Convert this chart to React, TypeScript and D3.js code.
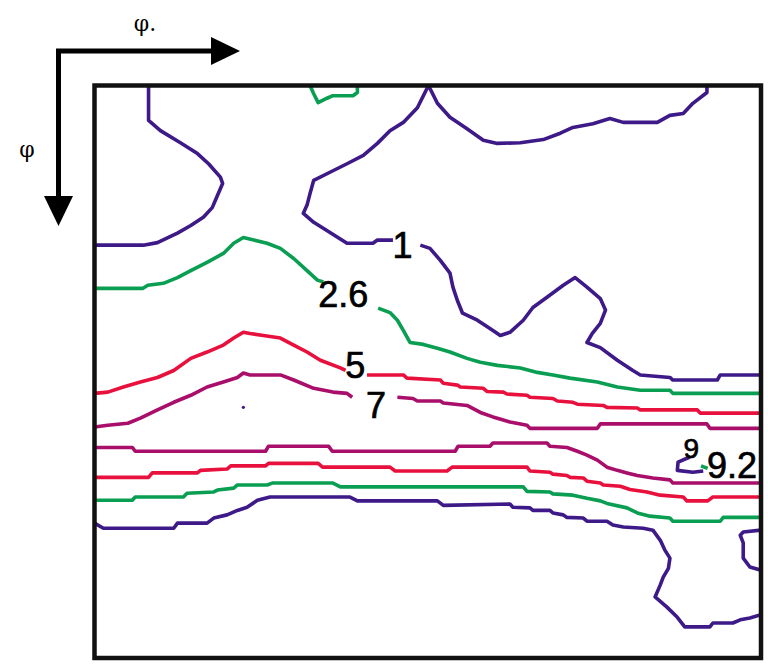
import React from "react";
import * as d3 from "d3";

// Contour levels and their labels
const levels = [1, 2.6, 5, 7, 9, 9.2];
const levelColors = ["#3d1a88", "#0a9e52", "#e8103c", "#a80e6a", "#3d1a88", "#0a9e52"];

// Contour line pieces, in (phi1, Phi) degrees
const contour1: [number, number][][] = [
  [[7.3,0],[7.3,5.5],[8.9,7.1],[11.6,9.0],[13.9,10.7],[15.4,12.3],[17.0,14.4],[17.3,15.4],[16.6,17.3],[15.9,19.2],[14.7,20.7],[13.0,22.0],[11.2,23.2],[8.5,24.7],[6.6,25.1],[0,25.1]],
  [[40.3,24.3],[38.2,24.3],[37.6,24.8],[34.1,24.8],[31.8,23.1],[29.6,21.5],[28.2,20.1],[28.7,18.8],[29.1,17.0],[29.6,14.9],[32.2,13.4],[34.1,12.3],[36.3,11.0],[38.2,9.1],[39.9,7.1],[41.7,5.8],[43.6,3.5],[45.1,0],[46.3,2.8],[48.0,5.0],[50.3,6.8],[52.5,8.6],[54.4,9.1],[57.5,9.0],[60.6,8.5],[62.9,7.5],[64.6,6.6],[67.3,6.0],[69.6,5.2],[71.4,5.8],[76.0,5.8],[77.7,4.7],[79.5,4.4],[80.8,2.8],[82.7,1.1],[82.7,0]],
  [[44.0,25.1],[45.3,25.6],[46.7,27.5],[48.0,29.5],[48.4,31.7],[49.0,33.8],[49.7,35.8],[51.7,36.9],[53.4,38.2],[54.8,39.3],[56.1,38.8],[57.9,36.9],[59.2,34.9],[61.1,33.3],[63.3,31.4],[64.9,30.2],[66.5,31.7],[68.3,33.5],[69.0,35.3],[68.3,37.4],[67.2,39.0],[66.5,40.4],[68.3,41.2],[70.6,43.2],[72.7,44.8],[73.7,45.5],[77.7,45.9],[78.1,46.3],[84.1,46.3],[84.5,45.5],[90,45.5]],
  [[0,68.8],[1.2,69.6],[10.7,69.6],[11.2,68.8],[15.2,68.8],[16.1,68.0],[17.9,67.5],[19.3,66.8],[20.6,66.3],[22.0,65.2],[23.7,64.7],[34.5,64.7],[35.5,65.3],[46.3,65.3],[47.1,66.0],[56.1,65.8],[56.5,66.3],[58.8,66.4],[59.2,66.8],[61.5,66.8],[61.9,67.2],[63.3,67.5],[63.8,67.9],[66.0,68.0],[66.5,68.5],[69.2,68.5],[70.0,69.1],[71.4,69.4],[74.1,69.6],[75.4,69.9],[76.4,71.5],[77.0,73.0],[77.7,74.3],[77.5,75.9],[76.8,77.3],[76.4,78.5],[75.7,80.4],[77.3,82.0],[78.7,83.6],[79.7,85.1],[83.1,85.1],[83.5,84.5],[86.2,84.5],[87.2,84.0],[88.5,83.7],[90,83.2]],
  [[90,69.9],[87.6,70.2],[87.2,70.7],[87.6,71.9],[87.6,74.3],[88.5,75.7],[90,76.2]],
];
const contour26: [number, number][][] = [
  [[29.1,0],[29.6,1.3],[30.2,2.7],[31.4,2.0],[32.2,1.6],[34.9,1.6],[35.5,1.1],[35.5,0]],
  [[0,31.9],[6.5,31.9],[7.2,31.4],[9.3,31.1],[11.2,30.2],[13.0,29.1],[15.2,27.8],[17.4,26.4],[18.8,24.8],[20.1,23.9],[21.5,24.3],[23.3,24.8],[25.1,25.6],[26.9,27.2],[28.7,29.1],[30.1,30.6],[30.9,30.9]],
  [[38.3,35.0],[39.9,35.7],[40.9,36.9],[41.7,38.5],[42.6,40.4],[44.4,40.7],[46.3,41.3],[48.0,41.9],[50.3,42.9],[52.1,43.5],[54.4,44.0],[57.5,44.4],[59.8,45.1],[61.9,45.5],[64.2,46.0],[67.9,46.6],[70.6,47.4],[73.7,47.9],[77.7,47.9],[78.1,48.4],[90,48.4]],
  [[0,65.2],[5.1,65.2],[5.5,64.7],[12.0,64.7],[12.5,64.1],[16.1,63.9],[16.6,63.6],[18.8,63.3],[19.3,62.8],[23.3,62.8],[24.0,62.5],[32.2,62.5],[33.2,63.1],[57.9,63.1],[58.4,63.8],[61.5,63.9],[61.9,64.2],[64.6,64.4],[66.5,64.9],[68.3,65.3],[69.2,65.7],[71.9,66.4],[73.3,67.2],[75.0,67.7],[77.7,68.0],[78.1,68.5],[84.5,68.5],[84.9,67.9],[90,67.9]],
];
const contour5: [number, number][][] = [
  [[0,48.4],[1.8,48.2],[3.9,47.4],[6.2,46.6],[8.5,45.9],[10.7,44.8],[13.0,42.9],[15.2,41.9],[17.4,40.8],[18.8,39.7],[20.1,38.8],[21.0,39.0],[22.8,39.3],[25.1,39.7],[26.9,40.8],[28.7,41.9],[30.5,43.2],[33.2,44.4],[33.9,44.8]],
  [[36.8,45.5],[41.7,45.5],[42.2,46.0],[46.7,46.3],[47.1,46.8],[49.0,47.1],[49.4,47.4],[52.5,47.6],[53.0,48.1],[55.2,48.2],[55.7,48.5],[58.4,48.7],[58.8,49.0],[61.9,49.2],[62.5,49.6],[64.6,49.8],[65.2,50.1],[68.7,50.3],[69.2,50.6],[73.3,50.7],[73.7,51.0],[81.4,51.0],[81.8,51.5],[90,51.5]],
  [[0,61.6],[7.3,61.6],[7.8,60.9],[13.9,60.9],[14.3,60.5],[17.9,60.3],[18.4,59.8],[23.1,59.8],[23.5,59.4],[30.2,59.4],[30.8,60.0],[39.9,60.0],[40.6,60.6],[47.6,60.6],[48.3,60.0],[58.4,60.0],[58.8,60.6],[61.5,60.8],[61.9,61.1],[63.8,61.3],[64.2,61.6],[66.0,61.7],[66.5,62.2],[68.3,62.5],[68.7,62.8],[71.0,63.0],[72.3,63.5],[74.6,63.9],[76.4,64.4],[79.5,64.7],[80.0,65.3],[82.8,65.3],[83.5,64.7],[90,64.7]],
];
const contour7: [number, number][][] = [
  [[0,53.7],[1.8,53.4],[4.5,53.1],[6.2,52.3],[8.5,51.0],[10.7,49.8],[13.0,48.7],[15.2,47.4],[17.4,46.6],[19.3,45.9],[20.1,45.2],[21.0,45.5],[25.1,45.5],[26.9,46.3],[29.6,47.6],[32.2,48.2],[34.1,48.4],[34.8,49.0]],
  [[40.9,49.0],[43.0,49.2],[43.6,49.6],[46.7,49.6],[47.1,49.9],[50.3,50.3],[52.1,51.4],[53.8,52.1],[55.2,52.6],[56.1,52.9],[58.4,53.4],[58.8,53.9],[67.9,53.9],[68.3,53.2],[82.7,53.2],[83.1,53.9],[90,53.9]],
  [[0,56.9],[5.1,56.9],[5.5,57.5],[23.1,57.5],[23.5,56.7],[31.6,56.7],[32.1,57.5],[48.7,57.5],[49.1,56.7],[53.4,56.7],[53.8,56.2],[61.1,56.2],[61.5,56.7],[63.8,56.9],[65.2,57.5],[66.5,58.1],[67.9,58.9],[69.2,60.0],[70.6,60.5],[71.9,60.9],[73.3,61.3],[75.4,61.7],[77.7,62.0],[78.1,62.5],[90,62.5]],
];
const contour9: [number, number][][] = [
  [[80.4,58.4],[78.8,59.2],[78.7,60.5],[80.8,60.8],[82.2,60.6]],
];
const contour92: [number, number][][] = [
  [[81.9,59.8],[82.8,60.2]],
];
const contourDots: [number, number][] = [[20.1, 50.6]];

// Contour label positions (phi1, Phi) and sizes
const labelText = ["1", "2.6", "5", "7", "9", "9.2"];
const labelX = [41.6, 33.6, 35.2, 38.0, 80.6, 86.1];
const labelY = [25.1, 32.8, 44.0, 50.3, 57.0, 59.7];
const labelSize = [36, 36, 36, 36, 28, 36];

const contourSets = [contour1, contour26, contour5, contour7, contour9, contour92];

const W = 768;
const H = 666;
const frame = { left: 94.5, top: 85.5, right: 761, bottom: 658 };

export default function App() {
  const x = d3.scaleLinear().domain([0, 90]).range([frame.left, frame.right]);
  const y = d3.scaleLinear().domain([0, 90]).range([frame.top, frame.bottom]);
  const line = d3
    .line<[number, number]>()
    .x((d) => x(d[0]))
    .y((d) => y(d[1]));

  return (
    <svg
      width={W}
      height={H}
      style={{ position: "absolute", left: 0, top: 0, background: "#fff" }}
      xmlns="http://www.w3.org/2000/svg"
    >
      <rect x={0} y={0} width={W} height={H} fill="#fff" />
      <defs>
        <clipPath id="plotClip">
          <rect
            x={frame.left}
            y={frame.top}
            width={frame.right - frame.left}
            height={frame.bottom - frame.top}
          />
        </clipPath>
      </defs>

      {/* orientation arrows */}
      <path d="M58.5,200 V51 H214" fill="none" stroke="#000" strokeWidth={5} />
      <polygon points="211,37 240,51 211,65" fill="#000" />
      <polygon points="44,196 73,196 58.5,226" fill="#000" />
      <text
        x={145}
        y={31}
        textAnchor="middle"
        fontFamily="'DejaVu Serif', serif"
        fontSize={22}
        fill="#000"
      >
        φ.
      </text>
      <text
        x={27}
        y={157}
        textAnchor="middle"
        fontFamily="'DejaVu Serif', serif"
        fontSize={22}
        fill="#000"
      >
        φ
      </text>

      {/* contours */}
      <g clipPath="url(#plotClip)">
        {contourSets.map((set, i) =>
          set.map((piece, j) => (
            <path
              key={`c${i}-${j}`}
              d={line(piece) || ""}
              fill="none"
              stroke={levelColors[i]}
              strokeWidth={3.6}
              strokeLinejoin="round"
            />
          ))
        )}
        {contourDots.map((d, i) => (
          <circle key={`dot${i}`} cx={x(d[0])} cy={y(d[1])} r={1.6} fill={levelColors[0]} />
        ))}
      </g>

      {/* contour labels */}
      {labelText.map((t, i) => (
        <text
          key={`l${i}`}
          x={x(labelX[i])}
          y={y(labelY[i])}
          dy="0.36em"
          textAnchor="middle"
          fontFamily="'Liberation Sans', Arial, sans-serif"
          fontSize={labelSize[i]}
          fill="#000"
          stroke="#000"
          strokeWidth={0.7}
          data-level={levels[i]}
        >
          {t}
        </text>
      ))}

      {/* frame */}
      <rect
        x={frame.left}
        y={frame.top}
        width={frame.right - frame.left}
        height={frame.bottom - frame.top}
        fill="none"
        stroke="#111"
        strokeWidth={4.5}
      />
    </svg>
  );
}
